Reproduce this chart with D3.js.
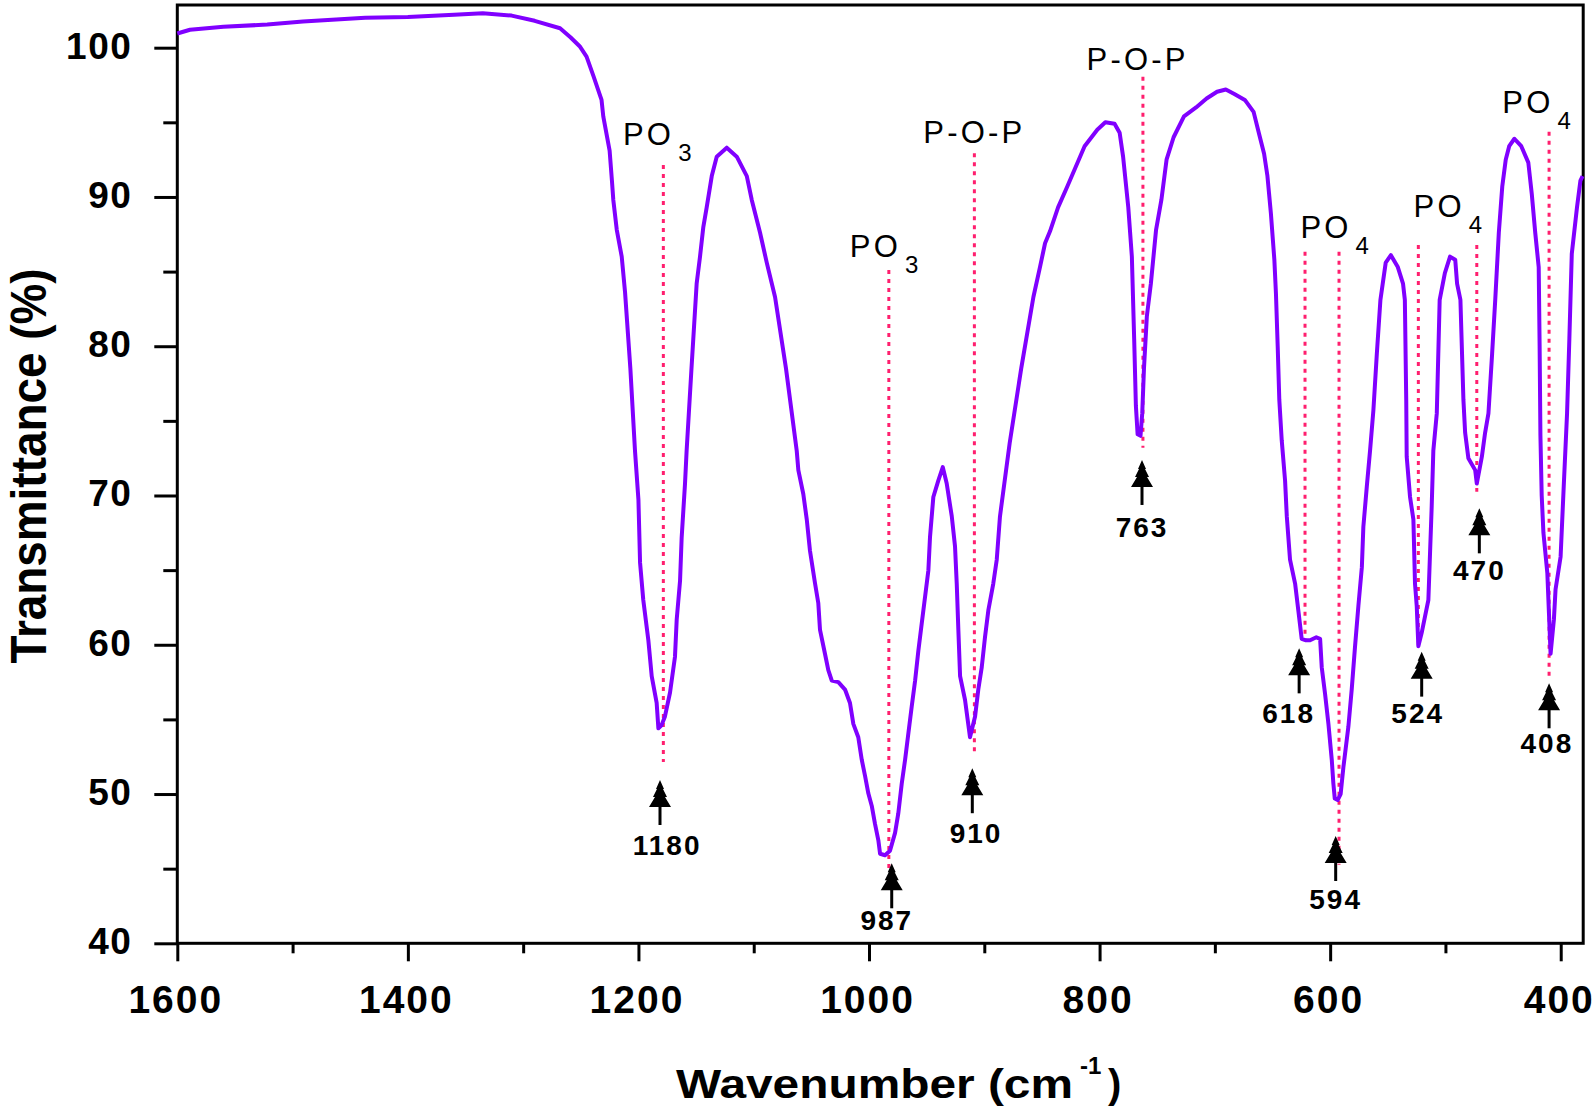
<!DOCTYPE html>
<html><head><meta charset="utf-8">
<script src="https://cdn.jsdelivr.net/npm/d3@7"></script>
<style>
html,body{margin:0;padding:0;background:#fff;}
svg{display:block;font-family:"Liberation Sans",Arial,sans-serif;}
</style></head>
<body>
<svg id="chart" width="1595" height="1110"></svg>
<script>
// ---- data ----
const wavenumber = [1600,1589,1560,1522,1491,1437,1400,1360,1335,1310,1290,1268,1259,1251,1245,1239,1232,1230.5,1225,1223,1221.8,1218.8,1214.5,1211.6,1207,1203,1200,1198.6,1195.8,1191.4,1188.5,1184.2,1182.7,1180,1177,1172.6,1168.3,1166.8,1163.9,1162.5,1159.6,1158.2,1154,1149.5,1146.6,1143.7,1140.8,1136.4,1132.1,1123.4,1114.7,1106,1101.7,1094.5,1088.7,1081.5,1072,1062.7,1061.3,1057,1054,1051.2,1046.8,1044,1042.5,1038.2,1035.3,1032.3,1026.6,1020.8,1016.5,1013.6,1009.3,1006.3,1003.4,1000.6,997.6,994.8,991.9,990.4,986.1,981.8,977.4,974.6,971.6,968.7,965.8,962.9,960,957.2,954.3,951.4,948.5,947.1,944.2,939.9,936,932.6,928.2,925.4,923.9,922.5,921,916.7,912.4,908,905.2,902.2,899.4,896.5,892.2,889.2,886.4,878,868,857.4,851.7,847.3,843,836,828,813,802,795,787,782.6,779.6,775.1,772,770,768.5,767,764.5,763,761.5,759,755.5,751,746.4,741.9,735.8,726.8,716.3,707.2,698.1,690.5,683.1,674,666.4,661.9,657.3,654.4,651.4,648.4,647,645.5,644.1,642,639.1,637.6,634.8,630.4,627.6,624.7,621,617.4,612,608.7,607.3,604.4,601.5,598.6,597.2,596,593.5,590.9,588.5,584.2,581.3,578.4,575.5,572.5,571.2,568.2,565.4,562.5,559.5,556.4,551.8,547.3,541.3,536.8,535.2,534,533.6,530.7,527.8,526.4,524.9,523.5,520.6,517.7,514.8,511.9,510.5,507.5,505,500.5,496,491.5,489.9,487,484.4,482.9,480.1,474.2,472.8,468.4,465.6,462.7,459.5,456.8,453.7,450.7,447.7,444.7,440.2,434.2,428.1,425.1,422.1,419.1,418.3,417.6,416.5,415,411.6,410.2,408.8,405.9,404.5,400.1,397.4,394.5,392.5,390.4,385.9,382.9,381];
const transmittance = [100.95,101.2,101.4,101.55,101.75,102.0,102.05,102.2,102.3,102.15,101.8,101.3,100.7,100.1,99.4,98.1,96.5,95.4,93.1,91.1,89.8,87.8,86.0,83.6,78.5,73.0,69.7,65.5,63.0,60.3,57.9,56.1,54.4,54.6,55.2,56.8,59.2,61.7,64.3,67.2,70.8,73.0,78.5,84.2,86.0,88.0,89.3,91.4,92.7,93.3,92.7,91.4,89.8,87.6,85.6,83.3,78.5,73.0,71.7,70.1,68.4,66.3,64.1,62.8,61.0,59.4,58.3,57.6,57.5,57.0,56.1,54.7,53.8,52.3,51.2,50.05,49.2,48.0,46.9,46.0,45.9,46.2,47.4,48.7,50.7,52.3,54.1,55.9,57.6,59.6,61.4,63.2,65.0,67.2,69.9,71.0,71.9,70.8,68.6,66.6,64.1,61.0,57.9,56.3,53.8,55.2,57.0,58.5,60.5,62.3,64.1,65.7,68.6,73.5,78.5,83.3,85.3,86.9,87.7,89.3,90.7,93.4,94.5,95.0,94.9,94.3,92.7,89.3,86.0,80.5,76.0,74.1,74.0,75.5,78.5,82.0,84.2,87.8,89.8,92.5,94.0,95.4,96.0,96.6,97.05,97.2,96.9,96.5,95.7,94.3,92.9,91.4,88.9,85.8,83.5,80.0,76.4,73.7,71.0,68.6,65.7,64.1,62.3,60.4,60.3,60.3,60.5,60.4,58.5,56.7,54.7,52.3,50.7,49.7,49.6,50.0,51.8,54.5,57.0,59.9,62.6,65.2,67.9,70.6,73.0,75.7,79.5,83.1,85.6,86.1,85.3,84.2,83.1,76.4,72.6,69.9,68.4,64.1,62.6,59.9,60.8,61.9,63.0,69.3,73.0,75.5,83.1,84.9,86.0,85.8,84.2,83.1,76.4,74.2,72.5,71.7,70.8,72.6,74.2,75.5,79.5,83.1,87.6,90.7,92.5,93.4,93.9,93.4,92.3,90.2,87.6,85.3,80.0,74.0,70.0,67.5,64.8,62.1,59.4,61.7,63.7,65.9,70.6,75.5,80.5,86.2,89.3,91.1,91.4];

const xMajorTicks = [1600,1400,1200,1000,800,600,400];
const xMinorTicks = [1500,1300,1100,900,700,500];
const yMajorTicks = [40,50,60,70,80,90,100];
const yMinorTicks = [45,55,65,75,85,95];

// peak markers (wavenumber / transmittance units)
const peakLabels   = ["1180","987","910","763","618","594","524","470","408"];
const markerWn     = [1178.4,982.8,908.6,762.4,621.8,592.3,523.5,472.8,410.1];
const markerTop    = [92.14,85.11,92.93,98.06,86.33,86.33,86.78,86.78,94.37];
const markerBottom = [52.15,44.91,52.84,73.2,60.28,45.27,59.87,70.25,57.86];
const arrowWn      = [1181.3,980.3,910.4,763.2,626.9,595.2,520.6,470.6,410.1];
const arrowTip     = [50.94,45.36,51.73,72.38,59.76,47.19,59.54,69.14,57.42];
const labelWn      = [1176,985.4,908,764,636.9,596.1,524.9,471.4,412.9];
const labelT       = [45.92,40.9,46.7,67.2,54.74,42.3,54.74,64.34,52.73];

// group assignments
const groupNames = ["PO","PO","P-O-P","P-O-P","PO","PO","PO"];
const groupSub   = ["3","3","","","4","4","4"];
const groupWn    = [1213.4,1016.6,952.9,811.3,625.8,527.7,450.7];
const groupT     = [93.48,86.0,93.6,98.5,87.23,88.68,95.6];

// ---- drawing ----
const svg = d3.select("#chart");
const L = 177.3, R = 1583.2, T = 5, B = 943.3;
const x = d3.scaleLinear().domain([1600, 380.5]).range([L, R]);
const y = d3.scaleLinear().domain([40, 102.86]).range([B, T]);
const FONT = '"Liberation Sans",Arial,sans-serif';

// axes
const gx = svg.append("g").attr("transform", `translate(0,${B})`)
  .call(d3.axisBottom(x).tickValues(xMajorTicks).tickSize(18).tickSizeOuter(0).tickPadding(24).tickFormat(d3.format("d")));
const gxm = svg.append("g").attr("transform", `translate(0,${B})`)
  .call(d3.axisBottom(x).tickValues(xMinorTicks).tickSize(10).tickSizeOuter(0).tickFormat(""));
const gy = svg.append("g").attr("transform", `translate(${L},0)`)
  .call(d3.axisLeft(y).tickValues(yMajorTicks).tickSize(23).tickSizeOuter(0).tickPadding(22).tickFormat(d3.format("d")));
const gym = svg.append("g").attr("transform", `translate(${L},0)`)
  .call(d3.axisLeft(y).tickValues(yMinorTicks).tickSize(14).tickSizeOuter(0).tickFormat(""));

[gx,gxm,gy,gym].forEach(g => {
  g.select(".domain").remove();
  g.selectAll(".tick line").attr("stroke","#000").attr("stroke-width",3);
});
gx.selectAll(".tick text").attr("font-family",FONT).attr("font-size",39).attr("font-weight","bold")
  .attr("fill","#000").attr("letter-spacing",2).attr("dx",-2);
gy.selectAll(".tick text").attr("font-family",FONT).attr("font-size",37).attr("font-weight","bold")
  .attr("fill","#000").attr("letter-spacing",1.5).attr("dy","0.28em");

// frame
svg.append("rect").attr("x",L).attr("y",T).attr("width",R-L).attr("height",B-T)
  .attr("fill","none").attr("stroke","#000").attr("stroke-width",3);

// dotted marker lines
svg.append("g").selectAll("line").data(markerWn).join("line")
  .attr("x1",d=>x(d)).attr("x2",d=>x(d))
  .attr("y1",(d,i)=>y(markerTop[i])).attr("y2",(d,i)=>y(markerBottom[i]))
  .attr("stroke","#ff1f6e").attr("stroke-width",3).attr("stroke-dasharray","4,5");

// spectrum
const pts = wavenumber.map((w,i)=>[w, transmittance[i]]);
svg.append("path").datum(pts)
  .attr("d", d3.line().x(d=>x(d[0])).y(d=>y(d[1])))
  .attr("fill","none").attr("stroke","#8000ff").attr("stroke-width",4)
  .attr("stroke-linejoin","round");

// arrows
const arrows = svg.append("g").selectAll("g").data(arrowWn).join("g")
  .attr("transform",(d,i)=>`translate(${x(d)},${y(arrowTip[i])})`);
arrows.append("line").attr("x1",0).attr("x2",0).attr("y1",10).attr("y2",45)
  .attr("stroke","#000").attr("stroke-width",3);
arrows.append("path").attr("d","M0,0 L-4,9 L-3,9 L-7,17 L-5,17 L-11,27 L11,27 L5,17 L7,17 L3,9 L4,9 Z")
  .attr("fill","#000");

// peak labels
svg.append("g").selectAll("text").data(peakLabels).join("text")
  .attr("x",(d,i)=>x(labelWn[i])+1).attr("y",(d,i)=>y(labelT[i]))
  .attr("text-anchor","middle").attr("font-family",FONT).attr("font-size",28)
  .attr("font-weight","bold").attr("letter-spacing",2).attr("fill","#000")
  .text(d=>d);

// group labels
const gl = svg.append("g").selectAll("text").data(groupNames).join("text")
  .attr("x",(d,i)=>x(groupWn[i])).attr("y",(d,i)=>y(groupT[i]))
  .attr("font-family",FONT).attr("font-size",31).attr("letter-spacing",3.2).attr("fill","#000");
gl.append("tspan").text(d=>d);
gl.append("tspan").attr("dx",4).attr("dy",16).attr("font-size",24).text((d,i)=>groupSub[i]);

// axis titles
svg.append("text").attr("transform","translate(46,466) rotate(-90)")
  .attr("text-anchor","middle").attr("font-family",FONT).attr("font-size",50).attr("font-weight","bold")
  .attr("textLength",395).attr("lengthAdjust","spacingAndGlyphs").attr("fill","#000")
  .text("Transmittance (%)");
svg.append("text").attr("x",676).attr("y",1098)
  .attr("font-family",FONT).attr("font-size",40).attr("font-weight","bold")
  .attr("textLength",397).attr("lengthAdjust","spacingAndGlyphs").attr("fill","#000")
  .text("Wavenumber (cm");
svg.append("text").attr("x",1080).attr("y",1074)
  .attr("font-family",FONT).attr("font-size",24).attr("font-weight","bold").attr("fill","#000")
  .text("-1");
svg.append("text").attr("x",1108).attr("y",1098)
  .attr("font-family",FONT).attr("font-size",40).attr("font-weight","bold").attr("fill","#000")
  .text(")");
</script>
</body></html>
